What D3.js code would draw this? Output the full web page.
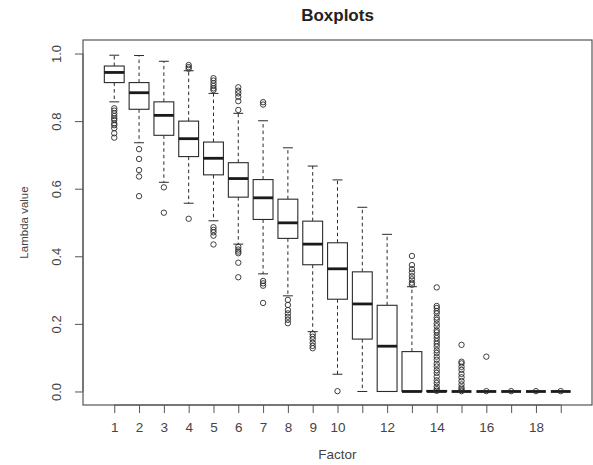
<!DOCTYPE html>
<html>
<head>
<meta charset="utf-8">
<script src="https://cdn.jsdelivr.net/npm/d3@7"></script>
<style>
  html, body { margin: 0; padding: 0; background: #fff; }
  svg { display: block; font-family: "Liberation Sans", Arial, sans-serif; }
</style>
</head>
<body>
<svg id="chart" width="593" height="465"></svg>
<script>
// ---- data ----
const factors = [1,2,3,4,5,6,7,8,9,10,11,12,13,14,15,16,17,18,19];
const whiskerHigh = [0.995,0.994,0.977,0.949,0.882,0.823,0.801,0.721,0.667,0.626,0.545,0.465,0.310,0,0,0,0,0,0];
const q3          = [0.963,0.914,0.857,0.800,0.738,0.677,0.627,0.569,0.504,0.440,0.354,0.255,0.118,0.003,0,0,0,0,0];
const median      = [0.944,0.884,0.817,0.748,0.690,0.630,0.573,0.499,0.436,0.363,0.259,0.134,0,0,0,0,0,0,0];
const q1          = [0.914,0.835,0.758,0.695,0.641,0.575,0.509,0.453,0.375,0.273,0.155,0,0,0,0,0,0,0,0];
const whiskerLow  = [0.857,0.736,0.619,0.557,0.505,0.436,0.348,0.283,0.177,0.051,0,0,0,0,0,0,0,0,0];
const outliers = [
  [0.838,0.831,0.823,0.815,0.808,0.803,0.793,0.788,0.779,0.764,0.751],
  [0.717,0.688,0.655,0.636,0.578],
  [0.604,0.529],
  [0.966,0.960,0.955,0.511],
  [0.927,0.920,0.912,0.904,0.897,0.892,0.486,0.478,0.471,0.461,0.435],
  [0.900,0.890,0.882,0.872,0.859,0.833,0.428,0.420,0.414,0.409,0.381,0.338],
  [0.856,0.849,0.327,0.320,0.313,0.262],
  [0.271,0.256,0.241,0.231,0.221,0.212,0.202],
  [0.170,0.162,0.154,0.144,0.135,0.128],
  [0.001],
  [],
  [],
  [0.401,0.374,0.362,0.352,0.341,0.332,0.322,0.316],
  [0.308,0.253,0.247,0.238,0.231,0.219,0.212,0.201,0.193,0.181,0.175,0.166,0.158,0.149,0.141,0.133,0.122,0.114,0.103,0.094,0.082,0.074,0.063,0.055,0.044,0.033,0.025,0.014,0.007,0.002],
  [0.138,0.088,0.083,0.073,0.064,0.052,0.042,0.031,0.021,0.012,0.006,0.001],
  [0.103,0.001],
  [0.001],
  [0.001],
  [0.001]
];
const yTicks = [0,0.2,0.4,0.6,0.8,1.0];
const xTickLabels = ["1","2","3","4","5","6","7","8","9","10","","12","","14","","16","","18",""];
const titleText = "Boxplots";
const xLabel = "Factor";
const yLabel = "Lambda value";

// ---- layout ----
const svg = d3.select("#chart");
const mLeft = 83, mRight = 592, mTop = 40, mBottom = 405;
const x = d3.scaleLinear().domain([-0.26, 20.26]).range([mLeft, mRight]);
const y = d3.scaleLinear().domain([-0.04, 1.04]).range([mBottom, mTop]);
const boxW = x(0.8) - x(0);
const capW = x(0.4) - x(0);
const ink = "#2a2a2a";

const g = svg.append("g");

factors.forEach((f, i) => {
  const cx = x(f);
  const grp = g.append("g");
  if (whiskerHigh[i] > q3[i]) {
    grp.append("line").attr("x1", cx).attr("x2", cx)
      .attr("y1", y(q3[i])).attr("y2", y(whiskerHigh[i]))
      .attr("stroke", ink).attr("stroke-width", 1).attr("stroke-dasharray", "3.5,3");
    grp.append("line").attr("x1", cx - capW/2).attr("x2", cx + capW/2)
      .attr("y1", y(whiskerHigh[i])).attr("y2", y(whiskerHigh[i]))
      .attr("stroke", ink).attr("stroke-width", 1);
  }
  if (whiskerLow[i] < q1[i]) {
    grp.append("line").attr("x1", cx).attr("x2", cx)
      .attr("y1", y(q1[i])).attr("y2", y(whiskerLow[i]))
      .attr("stroke", ink).attr("stroke-width", 1).attr("stroke-dasharray", "3.5,3");
    grp.append("line").attr("x1", cx - capW/2).attr("x2", cx + capW/2)
      .attr("y1", y(whiskerLow[i])).attr("y2", y(whiskerLow[i]))
      .attr("stroke", ink).attr("stroke-width", 1);
  }
  grp.append("rect").attr("x", cx - boxW/2).attr("width", boxW)
    .attr("y", y(q3[i])).attr("height", Math.max(0, y(q1[i]) - y(q3[i])))
    .attr("fill", "#fff").attr("stroke", ink).attr("stroke-width", 1.1);
  grp.append("line").attr("x1", cx - boxW/2).attr("x2", cx + boxW/2)
    .attr("y1", y(median[i])).attr("y2", y(median[i]))
    .attr("stroke", "#1a1a1a").attr("stroke-width", 2.8);
  grp.selectAll("circle").data(outliers[i]).enter().append("circle")
    .attr("cx", cx).attr("cy", d => y(d)).attr("r", 2.7)
    .attr("fill", "none").attr("stroke", ink).attr("stroke-width", 0.9);
});

svg.append("rect").attr("x", mLeft).attr("y", mTop)
  .attr("width", mRight - mLeft).attr("height", mBottom - mTop)
  .attr("fill", "none").attr("stroke", "#555").attr("stroke-width", 1.2);

const yAxis = svg.append("g").attr("transform", `translate(${mLeft},0)`)
  .call(d3.axisLeft(y).tickValues(yTicks).tickSize(8).tickFormat(d3.format(".1f")));
yAxis.select(".domain").attr("d", `M0,${y(0)}V${y(1)}`).attr("stroke", "#555");
yAxis.selectAll(".tick line").attr("stroke", "#555");
yAxis.selectAll(".tick text")
  .attr("x", null).attr("dy", null)
  .attr("transform", "translate(-22,0) rotate(-90)")
  .attr("text-anchor", "middle")
  .attr("font-size", 13).attr("fill", "#444");

const xAxis = svg.append("g").attr("transform", `translate(0,${mBottom})`)
  .call(d3.axisBottom(x).tickValues(factors).tickSize(8).tickFormat((d, i) => xTickLabels[i]));
xAxis.select(".domain").attr("d", `M${x(1)},0H${x(19)}`).attr("stroke", "#555");
xAxis.selectAll(".tick line").attr("stroke", "#555");
xAxis.selectAll(".tick text")
  .attr("y", 27).attr("dy", null)
  .attr("font-size", 13.5).attr("fill", "#444");

svg.append("text").attr("x", (mLeft + mRight)/2).attr("y", 21)
  .attr("text-anchor", "middle").attr("font-weight", "bold")
  .attr("font-size", 17).attr("fill", "#222").text(titleText);
svg.append("text").attr("x", (mLeft + mRight)/2).attr("y", 459)
  .attr("text-anchor", "middle").attr("font-size", 13.5).attr("fill", "#444").text(xLabel);
svg.append("text").attr("transform", `translate(28,${(mTop + mBottom)/2}) rotate(-90)`)
  .attr("text-anchor", "middle").attr("font-size", 11.5).attr("fill", "#444").text(yLabel);
</script>
</body>
</html>
